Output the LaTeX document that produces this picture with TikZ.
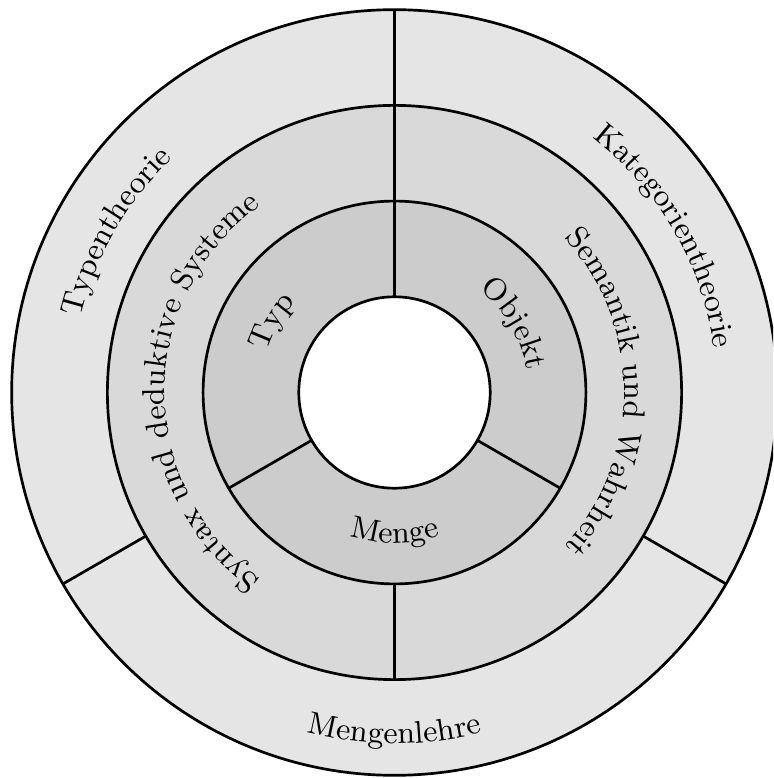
\documentclass[tikz,border=0pt]{standalone}
\usetikzlibrary{decorations.text}
\definecolor{ringA}{gray}{0.9}
\definecolor{ringB}{gray}{0.85}
\definecolor{ringC}{gray}{0.8}
\newcommand\lblfont{\fontsize{9.3}{11}\selectfont}
\begin{document}
\begin{tikzpicture}[line width=0.8pt,
  lbl/.style={decorate, decoration={text along path, text align=center, text={|\lblfont|#1}}}]
\useasboundingbox (-4.122,-4.028) rectangle (3.955,4.101);
\clip (-4.122,-4.028) rectangle (3.955,4.101);
\fill[ringA] (0,0) circle (4);
\fill[ringB] (0,0) circle (3);
\fill[ringC] (0,0) circle (2);
\fill[white] (0,0) circle (1);
\draw (0,0) circle (4) (0,0) circle (3) (0,0) circle (2) (0,0) circle (1);
\draw (90:3) -- (90:4) (210:3) -- (210:4) (330:3) -- (330:4);
\draw (90:2) -- (90:3) (270:2) -- (270:3);
\draw (90:1) -- (90:2) (210:1) -- (210:2) (330:1) -- (330:2);
\path[lbl=Typentheorie] (210:3.37) arc[start angle=210, end angle=90, radius=3.37];
\path[lbl=Kategorientheorie] (90:3.37) arc[start angle=90, end angle=-30, radius=3.37];
\path[lbl=Mengenlehre] (210:3.67) arc[start angle=210, end angle=330, radius=3.67];
\path[lbl={Syntax und deduktive Systeme}] (270:2.4) arc[start angle=270, end angle=90, radius=2.4];
\path[lbl={Semantik und Wahrheit}] (90:2.4) arc[start angle=90, end angle=-90, radius=2.4];
\path[lbl=Typ] (210:1.4) arc[start angle=210, end angle=90, radius=1.4];
\path[lbl=Objekt] (90:1.4) arc[start angle=90, end angle=-30, radius=1.4];
\path[lbl=Menge] (210:1.573) arc[start angle=210, end angle=330, radius=1.573];
\end{tikzpicture}
\end{document}
